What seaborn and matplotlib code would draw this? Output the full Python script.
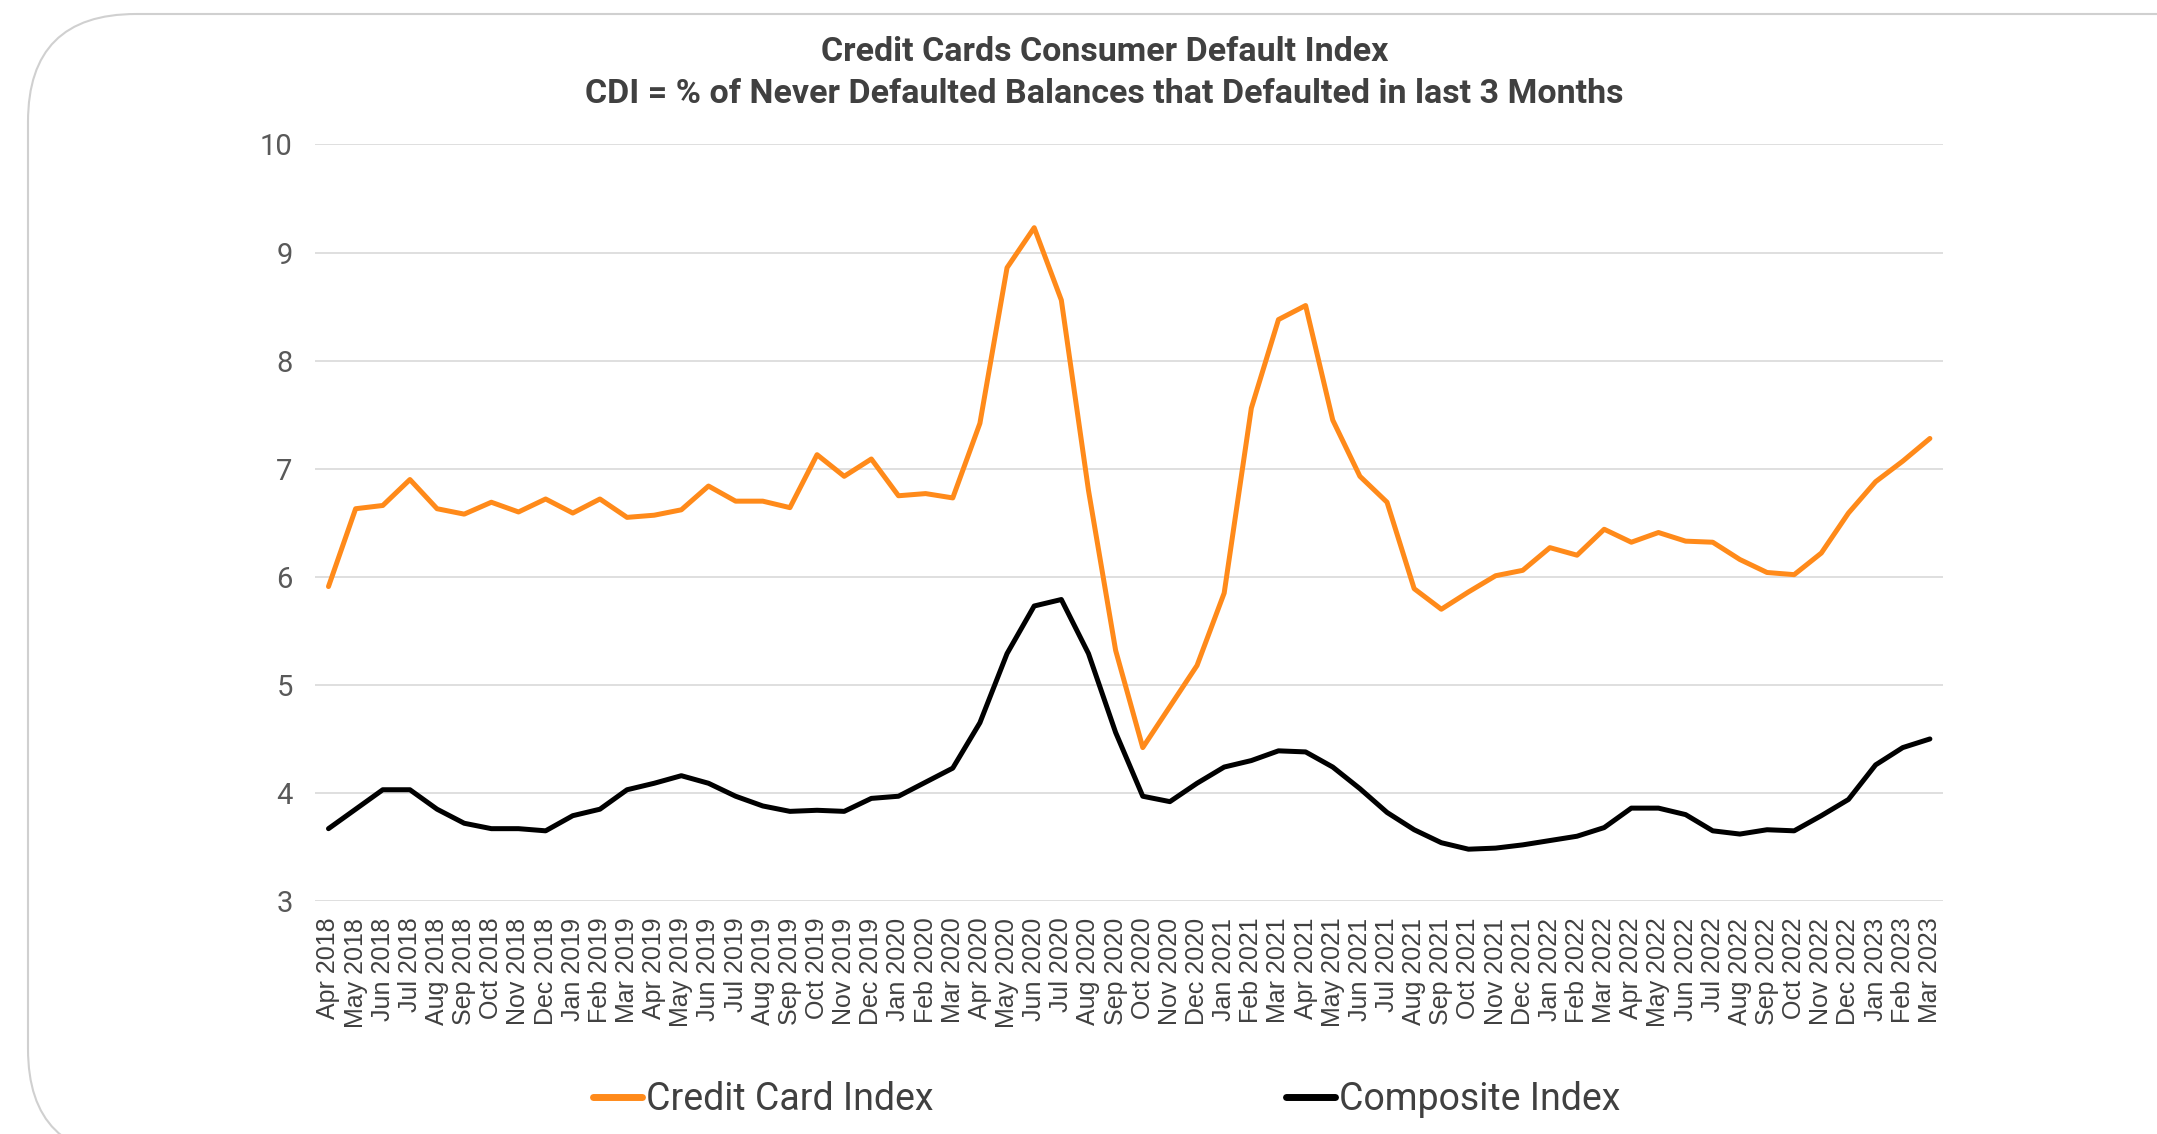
import pandas as pd
import numpy as np
import seaborn as sns
import matplotlib.pyplot as plt
from matplotlib.patches import FancyBboxPatch
from matplotlib.lines import Line2D

months = ['Apr', 'May', 'Jun', 'Jul', 'Aug', 'Sep', 'Oct', 'Nov', 'Dec', 'Jan', 'Feb', 'Mar']
month_labels = []
for k in range(60):
    m = months[k % 12]
    yr = 2018 + (k + 3) // 12
    month_labels.append(f'{m} {yr}')

credit_card = [5.91, 6.63, 6.66, 6.90, 6.63, 6.58, 6.69, 6.60, 6.72, 6.59,
               6.72, 6.55, 6.57, 6.62, 6.84, 6.70, 6.70, 6.64, 7.13, 6.93,
               7.09, 6.75, 6.77, 6.73, 7.42, 8.86, 9.23, 8.56, 6.80, 5.32,
               4.42, 4.80, 5.18, 5.85, 7.56, 8.38, 8.51, 7.45, 6.93, 6.69,
               5.89, 5.70, 5.86, 6.01, 6.06, 6.27, 6.20, 6.44, 6.32, 6.41,
               6.33, 6.32, 6.16, 6.04, 6.02, 6.22, 6.59, 6.88, 7.07, 7.28]
composite = [3.67, 3.85, 4.03, 4.03, 3.85, 3.72, 3.67, 3.67, 3.65, 3.79,
             3.85, 4.03, 4.09, 4.16, 4.09, 3.97, 3.88, 3.83, 3.84, 3.83,
             3.95, 3.97, 4.10, 4.23, 4.65, 5.29, 5.73, 5.79, 5.29, 4.56,
             3.97, 3.92, 4.09, 4.24, 4.30, 4.39, 4.38, 4.24, 4.04, 3.82,
             3.66, 3.54, 3.48, 3.49, 3.52, 3.56, 3.60, 3.68, 3.86, 3.86,
             3.80, 3.65, 3.62, 3.66, 3.65, 3.79, 3.94, 4.26, 4.42, 4.50]

series_names = ['Credit Card Index', 'Composite Index']
colors = {'Credit Card Index': '#FF8A1A', 'Composite Index': '#000000'}

df = pd.DataFrame({'month': month_labels * 2,
                   'pos': list(range(60)) * 2,
                   'value': credit_card + composite,
                   'series': [series_names[0]] * 60 + [series_names[1]] * 60})

sns.set_theme(style='white')
plt.rcParams['font.family'] = ['Roboto', 'DejaVu Sans']

fig = plt.figure(figsize=(21.57, 11.34), dpi=100)
ax = fig.add_axes([0.146, 0.2054, 0.755, 0.6672])

sns.lineplot(data=df, x='pos', y='value', hue='series', palette=colors,
             linewidth=3.6, ax=ax, legend=False, sort=False)

ax.set_xlim(-0.5, 59.5)
ax.set_ylim(3, 10)
ax.set_yticks(range(3, 11))
ax.set_xticks(range(60))
ax.set_xticklabels(month_labels, rotation=90, fontsize=18, color='#404040',
                   family='Liberation Sans')
ax.tick_params(axis='y', labelsize=21, labelcolor='#595959', length=0, pad=16)
ax.tick_params(axis='x', length=0, pad=12)
ax.grid(axis='y', color='#D9D9D9', linewidth=1.2)
ax.set_axisbelow(True)
for s in ax.spines.values():
    s.set_visible(False)
ax.set_xlabel('')
ax.set_ylabel('')

fig.text(0.512, 0.954, 'Credit Cards Consumer Default Index', ha='center', va='center',
         fontsize=24.5, fontweight='bold', color='#404040')
fig.text(0.512, 0.9175, 'CDI = % of Never Defaulted Balances that Defaulted in last 3 Months',
         ha='center', va='center', fontsize=24.5, fontweight='bold', color='#404040')

handles = [Line2D([], [], color=colors[n], linewidth=5) for n in series_names]
fig.legend(handles, series_names, loc='center', bbox_to_anchor=(0.513, 0.030),
           ncol=2, frameon=False, fontsize=27, handlelength=1.32, handletextpad=0.1,
           columnspacing=9.4, labelcolor='#404040')

box = FancyBboxPatch((28 / 2157, -0.02), 1.05, 1 - 14 / 1134 + 0.02,
                     boxstyle='round,pad=0,rounding_size=0.05',
                     transform=fig.transFigure, facecolor='none',
                     edgecolor='#D0D0D0', linewidth=1.5, mutation_aspect=1.9)
fig.patches.append(box)

fig.savefig('out.png', dpi=100)
